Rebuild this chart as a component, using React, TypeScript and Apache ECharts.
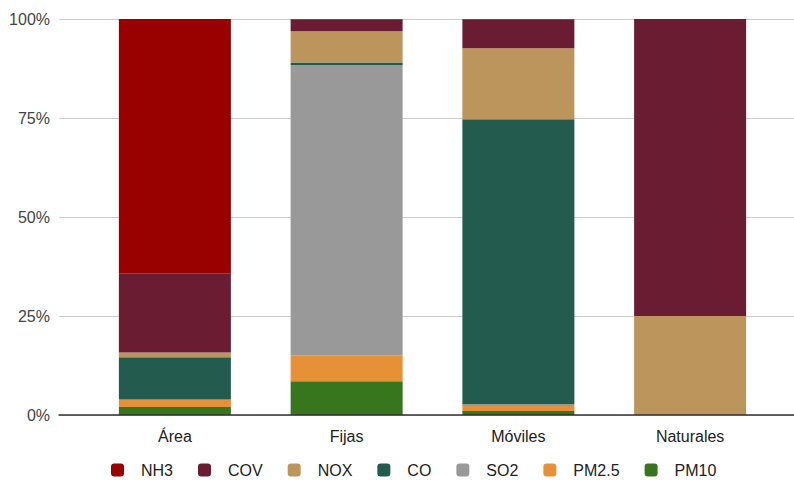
import React, { useEffect, useRef } from "react";
import * as echarts from "echarts";

const categories = ["Área", "Fijas", "Móviles", "Naturales"];
const yTicks = [0, 25, 50, 75, 100];

// values in percent of each category's total, bottom to top
const pm10 = [2.0, 8.5, 1.0, 0];
const pm25 = [1.8, 6.6, 1.3, 0];
const so2 = [0.1, 73.3, 0.4, 0];
const co = [10.7, 0.6, 72.0, 0];
const nox = [1.2, 7.9, 17.9, 25];
const cov = [20.0, 3.0, 7.3, 75];
const nh3 = [64.2, 0.1, 0.1, 0];

const seriesNames = ["PM10", "PM2.5", "SO2", "CO", "NOX", "COV", "NH3"];
const seriesValues = [pm10, pm25, so2, co, nox, cov, nh3];
const seriesColors = ["#38761d", "#e69138", "#999999", "#235b4e", "#bc955c", "#691c32", "#990000"];
const legendOrder = ["NH3", "COV", "NOX", "CO", "SO2", "PM2.5", "PM10"];

const FONT = "'Liberation Sans', Arial, sans-serif";

export default function App() {
  const ref = useRef<HTMLDivElement>(null);

  useEffect(() => {
    document.body.style.margin = "0";
    if (!ref.current) return;
    const chart = echarts.init(ref.current, null, { renderer: "svg" });

    const totals = categories.map((_, i) =>
      seriesValues.reduce((s, arr) => s + arr[i], 0)
    );

    const series = seriesNames.map((name, k) => ({
      name,
      type: "bar" as const,
      stack: "total",
      xAxisIndex: 1,
      yAxisIndex: 1,
      barWidth: 112,
      itemStyle: { color: seriesColors[k] },
      data: seriesValues[k].map((v, i) => (totals[i] ? (v / totals[i]) * 100 : 0)),
    }));

    chart.setOption({
      animation: false,
      textStyle: { fontFamily: FONT },
      legend: {
        data: legendOrder,
        left: 111,
        top: 462,
        padding: 0,
        itemWidth: 13,
        itemHeight: 13,
        itemGap: 25,
        icon: "roundRect",
        textStyle: { fontSize: 16, color: "#222", fontFamily: FONT, padding: [0, 0, 0, 12] },
      },
      grid: [
        { left: 59, right: 0, top: 19, bottom: 65 },
        { left: 89, right: 18, top: 19, bottom: 65 },
      ],
      xAxis: [
        {
          gridIndex: 0,
          type: "value",
          min: 0,
          max: 1,
          z: 10,
          axisLine: { show: true, onZero: false, lineStyle: { color: "#333", width: 1.5 } },
          axisTick: { show: false },
          axisLabel: { show: false },
          splitLine: { show: false },
        },
        {
          gridIndex: 1,
          type: "category",
          data: categories,
          axisLine: { show: false },
          axisTick: { show: false },
          axisLabel: { fontSize: 16, color: "#222", margin: 13, fontFamily: FONT },
        },
      ],
      yAxis: [
        {
          gridIndex: 0,
          type: "value",
          min: yTicks[0],
          max: yTicks[yTicks.length - 1],
          interval: 25,
          axisLine: { show: false },
          axisTick: { show: false },
          axisLabel: {
            formatter: "{value}%",
            fontSize: 16,
            color: "#444",
            margin: 9,
            fontFamily: FONT,
          },
          splitLine: { lineStyle: { color: "#cccccc", width: 1 } },
        },
        {
          gridIndex: 1,
          type: "value",
          min: 0,
          max: 100,
          show: false,
          splitLine: { show: false },
        },
      ],
      series,
    });

    return () => chart.dispose();
  }, []);

  return <div ref={ref} style={{ width: 794, height: 480 }} />;
}
